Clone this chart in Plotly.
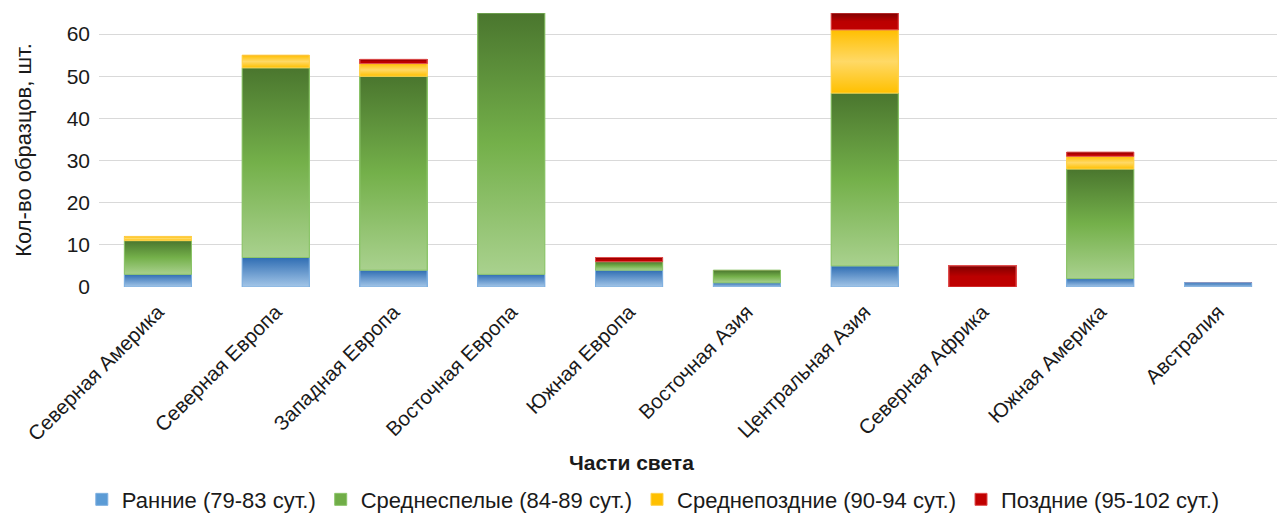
import plotly.graph_objects as go

# Regions (x categories)
regions = [
    "Северная Америка", "Северная Европа", "Западная Европа", "Восточная Европа",
    "Южная Европа", "Восточная Азия", "Центральная Азия", "Северная Африка",
    "Южная Америка", "Австралия",
]

# Number of samples per ripeness group
early = [3, 7, 4, 3, 4, 1, 5, 0, 2, 1]          # Ранние (79-83 сут.)
mid_early = [8, 45, 46, 62, 2, 3, 41, 0, 26, 0]  # Среднеспелые (84-89 сут.)
mid_late = [1, 3, 3, 0, 0, 0, 15, 0, 3, 0]       # Среднепоздние (90-94 сут.)
late = [0, 0, 1, 0, 1, 0, 4, 5, 1, 0]            # Поздние (95-102 сут.)

series_names = [
    "Ранние (79-83 сут.)",
    "Среднеспелые (84-89 сут.)",
    "Среднепоздние (90-94 сут.)",
    "Поздние (95-102 сут.)",
]
series_values = [early, mid_early, mid_late, late]

# Base colour, border colour and vertical gradient (bottom -> top) per series
base_colors = ["#5b9bd5", "#70ad47", "#ffc000", "#c00000"]
border_colors = ["#7fb0e0", "#8cc56a", "#ffd34d", "#e05050"]
gradients = [
    [[0, "#a3c6e8"], [1, "#2f6db3"]],
    [[0, "#a9d18e"], [0.5, "#74b04a"], [1, "#4a762e"]],
    [[0, "#ffc000"], [0.5, "#ffd966"], [1, "#ffbf00"]],
    [[0, "#c00000"], [0.5, "#bb0000"], [1, "#7f0000"]],
]

FONT = "Liberation Sans"
TXT = "#1a1a1a"
BAR_W = 0.57
x_pos = list(range(len(regions)))

fig = go.Figure()

# Stacked bars (data + legend)
for name, vals, col, bcol in zip(series_names, series_values, base_colors, border_colors):
    fig.add_trace(go.Bar(
        x=x_pos, y=vals, name=name, width=BAR_W,
        marker=dict(color=col, line=dict(color=bcol, width=1)),
    ))

# Gradient shading on each stacked segment, computed from the same values
bottoms = [0] * len(regions)
for vals, grad, bcol in zip(series_values, gradients, border_colors):
    for i, v in enumerate(vals):
        if v <= 0:
            continue
        b, t = bottoms[i], bottoms[i] + v
        x0, x1 = i - BAR_W / 2, i + BAR_W / 2
        fig.add_trace(go.Scatter(
            x=[x0, x1, x1, x0, x0], y=[b, b, t, t, b],
            mode="lines", fill="toself",
            fillgradient=dict(type="vertical", colorscale=grad),
            line=dict(color=bcol, width=1),
            showlegend=False, hoverinfo="skip",
        ))
    bottoms = [bb + v for bb, v in zip(bottoms, vals)]

fig.update_layout(
    barmode="stack",
    width=1281, height=515,
    margin=dict(l=99, r=4, t=13, b=228),
    paper_bgcolor="white", plot_bgcolor="white",
    font=dict(family=FONT, size=21, color=TXT),
    showlegend=True,
    legend=dict(
        orientation="h", xref="container", yref="container",
        x=0.51, y=0.03, xanchor="center", yanchor="middle",
        traceorder="normal",
        font=dict(family=FONT, size=22, color=TXT),
    ),
    annotations=[dict(
        text="<b>Части света</b>", xref="paper", yref="paper",
        x=0.452, y=-0.642, xanchor="center", yanchor="middle",
        showarrow=False, font=dict(family=FONT, size=21, color=TXT),
    )],
)

fig.update_xaxes(
    range=[-0.5, len(regions) - 0.5],
    tickmode="array", tickvals=x_pos, ticktext=regions,
    tickangle=-45, showgrid=False, zeroline=False, showline=False,
    ticks="", ticklabelstandoff=8,
    tickfont=dict(family=FONT, size=20.5, color=TXT),
)
fig.update_yaxes(
    range=[0, 65], tickmode="array", tickvals=[0, 10, 20, 30, 40, 50, 60],
    showgrid=True, gridcolor="#d9d9d9", gridwidth=1,
    zeroline=False, showline=False, ticks="",
    ticklabelstandoff=8,
    tickfont=dict(family=FONT, size=21, color=TXT),
    title=dict(text="Кол-во образцов, шт.", standoff=28,
               font=dict(family=FONT, size=22, color=TXT)),
)

fig.write_html("out.html")
